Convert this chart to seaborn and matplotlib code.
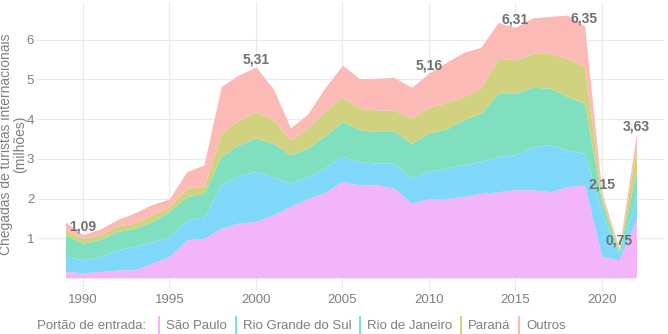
import matplotlib
matplotlib.use("Agg")
import matplotlib.pyplot as plt
from matplotlib.lines import Line2D
import pandas as pd
import seaborn as sns

# International tourist arrivals in Brazil by port of entry (millions)
years = list(range(1989, 2023))
sao_paulo = [0.16, 0.13, 0.16, 0.20, 0.20, 0.37, 0.54, 0.96, 1.00, 1.25,
             1.38, 1.42, 1.59, 1.80, 2.00, 2.15, 2.43, 2.34, 2.34, 2.26,
             1.88, 2.00, 2.00, 2.05, 2.13, 2.17, 2.22, 2.22, 2.17, 2.30,
             2.34, 0.55, 0.45, 1.50]
rio_grande_do_sul = [0.38, 0.32, 0.38, 0.51, 0.59, 0.54, 0.50, 0.50, 0.54, 1.09,
                     1.21, 1.26, 0.96, 0.59, 0.55, 0.63, 0.63, 0.59, 0.55, 0.63,
                     0.63, 0.70, 0.76, 0.80, 0.80, 0.89, 0.88, 1.09, 1.18, 0.92,
                     0.80, 1.10, 0.12, 0.55]
rio_de_janeiro = [0.54, 0.42, 0.43, 0.46, 0.46, 0.51, 0.63, 0.59, 0.59, 0.72,
                  0.76, 0.84, 0.84, 0.71, 0.72, 0.80, 0.88, 0.80, 0.80, 0.80,
                  0.88, 0.95, 0.99, 1.13, 1.22, 1.59, 1.55, 1.49, 1.43, 1.35,
                  1.26, 0.25, 0.08, 0.67]
parana = [0.13, 0.13, 0.11, 0.14, 0.13, 0.17, 0.13, 0.21, 0.17, 0.58,
          0.63, 0.67, 0.59, 0.38, 0.50, 0.62, 0.63, 0.54, 0.54, 0.54,
          0.63, 0.65, 0.67, 0.59, 0.63, 0.88, 0.84, 0.86, 0.88, 0.96,
          0.92, 0.12, 0.05, 0.59]
outros = [0.19, 0.09, 0.15, 0.16, 0.26, 0.26, 0.19, 0.41, 0.55, 1.18,
          1.13, 1.12, 0.79, 0.30, 0.36, 0.59, 0.79, 0.75, 0.80, 0.82,
          0.78, 0.86, 1.01, 1.11, 1.03, 0.90, 0.82, 0.89, 0.93, 1.09,
          1.03, 0.13, 0.05, 0.32]

gates = ["São Paulo", "Rio Grande do Sul", "Rio de Janeiro", "Paraná", "Outros"]
colors = ["#F3B5F9", "#7FD7FA", "#7FDFBE", "#D1D27F", "#FBBAB6"]
labelled_years = [1990, 2000, 2010, 2015, 2019, 2020, 2021, 2022]
x_ticks = [1990, 1995, 2000, 2005, 2010, 2015, 2020]
y_ticks = [1, 2, 3, 4, 5, 6]

wide = pd.DataFrame({
    "ano": years,
    "São Paulo": sao_paulo,
    "Rio Grande do Sul": rio_grande_do_sul,
    "Rio de Janeiro": rio_de_janeiro,
    "Paraná": parana,
    "Outros": outros,
})
long = wide.melt(id_vars="ano", var_name="portao", value_name="chegadas")
totals = wide.set_index("ano")[gates].sum(axis=1).round(2)

sns.set_theme(style="whitegrid")
plt.rcParams["font.family"] = ["Liberation Sans", "DejaVu Sans"]

text_grey = "#7F7F7F"
fig = plt.figure(figsize=(6.68, 3.34), dpi=100)
ax = fig.add_axes([37 / 668, 43 / 334, 628 / 668, 289 / 334])

# Stacked areas: seaborn stacks the last hue level at the bottom
sns.histplot(data=long, x="ano", weights="chegadas", hue="portao",
             hue_order=gates[::-1], palette=dict(zip(gates, colors)),
             multiple="stack", element="poly", discrete=True,
             alpha=1, linewidth=0, legend=False, ax=ax)

ax.set_xlim(1987.35, 2023.65)
ax.set_ylim(-0.33, 6.95)
ax.set_xticks(x_ticks)
ax.set_yticks(y_ticks)
ax.set_xlabel("")
ax.set_ylabel("")
ax.set_facecolor("white")
ax.grid(True, color="#EBEBEB", linewidth=0.8)
ax.set_axisbelow(True)
for s in ax.spines.values():
    s.set_visible(False)
ax.tick_params(axis="both", length=0, labelsize=9.5, labelcolor=text_grey, pad=2)

for yr in labelled_years:
    v = totals.loc[yr]
    ax.annotate(f"{v:.2f}".replace(".", ","), (yr, v), xytext=(0, 0.5),
                textcoords="offset points", ha="center", va="bottom",
                fontsize=10, fontweight="bold", color="#707070")

fig.text(13 / 668, 0.567, "Chegadas de turistas internacionais\n(milhões)",
         rotation=90, ha="center", va="center", multialignment="center",
         fontsize=10, color=text_grey, linespacing=1.05)

fig.text(37 / 668, 8 / 334, "Portão de entrada:", ha="left", va="center",
         fontsize=9.5, color=text_grey)
handles = [Line2D([0], [0], marker="|", linestyle="none", markersize=13,
                  markeredgewidth=1.4, color=c) for c in colors]
fig.legend(handles, gates, loc="center left", bbox_to_anchor=(155 / 668, 8 / 334),
           ncol=5, frameon=False, fontsize=9.5, handlelength=0.6,
           handletextpad=0.25, columnspacing=0.35, borderpad=0,
           borderaxespad=0, labelcolor=text_grey)

fig.savefig("out.png", dpi=100, facecolor="white")
